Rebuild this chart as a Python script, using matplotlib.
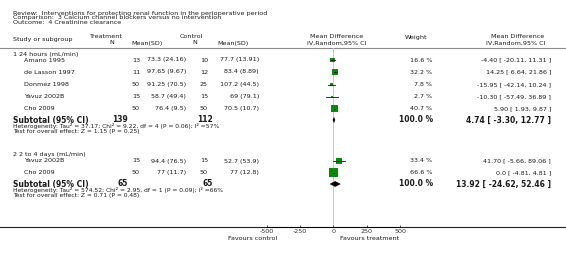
import numpy as np
import matplotlib.pyplot as plt
from matplotlib.patches import Polygon

# ---- data ----
studies1 = ['Amano 1995', 'de Lasson 1997', 'Donmez 1998', 'Yavuz 2002B', 'Cho 2009']
trt_n1 = [13, 11, 50, 15, 50]
trt_msd1 = ['73.3 (24.16)', '97.65 (9.67)', '91.25 (70.5)', '58.7 (49.4)', '76.4 (9.5)']
ctl_n1 = [10, 12, 25, 15, 50]
ctl_msd1 = ['77.7 (13.91)', '83.4 (8.89)', '107.2 (44.5)', '69 (79.1)', '70.5 (10.7)']
md1 = [-4.40, 14.25, -15.95, -10.30, 5.90]
lo1 = [-20.11, 6.64, -42.14, -57.49, 1.93]
hi1 = [11.31, 21.86, 10.24, 36.89, 9.87]
w1 = [16.6, 32.2, 7.8, 2.7, 40.7]
sub1 = [4.74, -3.30, 12.77]
het1 = 'Heterogeneity: Tau\u00b2 = 37.17; Chi\u00b2 = 9.22, df = 4 (P = 0.06); I\u00b2 =57%'
test1 = 'Test for overall effect: Z = 1.15 (P = 0.25)'

studies2 = ['Yavuz 2002B', 'Cho 2009']
trt_n2 = [15, 50]
trt_msd2 = ['94.4 (76.5)', '77 (11.7)']
ctl_n2 = [15, 50]
ctl_msd2 = ['52.7 (53.9)', '77 (12.8)']
md2 = [41.70, 0.0]
lo2 = [-5.66, -4.81]
hi2 = [89.06, 4.81]
w2 = [33.4, 66.6]
sub2 = [13.92, -24.62, 52.46]
het2 = 'Heterogeneity: Tau\u00b2 = 574.52; Chi\u00b2 = 2.95, df = 1 (P = 0.09); I\u00b2 =66%'
test2 = 'Test for overall effect: Z = 0.71 (P = 0.48)'

ticks = [-500, -250, 0, 250, 500]

fs = 4.6
fsb = 5.5
fsh = 4.3
green = '#0a8a0a'

fig = plt.figure(figsize=(5.66, 2.57), dpi=100)
ax = fig.add_axes([0, 0, 1, 1])
ax.set_xlim(0, 566)
ax.set_ylim(257, 0)
ax.axis('off')

# forest axes: -500..500 -> pixels 266.7..400
fx = fig.add_axes([266.67 / 566, 0, 133.33 / 566, 1])
fx.set_xlim(-500, 500)
fx.set_ylim(257, 0)
fx.patch.set_alpha(0)
for s in ['top', 'left', 'right']:
    fx.spines[s].set_visible(False)
fx.spines['bottom'].set_position(('data', 227))
fx.spines['bottom'].set_linewidth(0.7)
fx.set_yticks([])
fx.set_xticks(ticks)
fx.set_xticklabels([str(t) for t in ticks])
fx.tick_params(axis='x', direction='in', length=1.8, width=0.6, labelsize=fs, pad=1.5,
               colors='#333333')


def txt(x, y, s, ha='left', size=fs, weight='normal'):
    ax.text(x, y, s, ha=ha, va='center', fontsize=size, fontweight=weight, color='#1a1a1a')


# header
txt(13, 13, 'Review:  Interventions for protecting renal function in the perioperative period')
txt(13, 18, 'Comparison:  3 Calcium channel blockers versus no intervention')
txt(13, 23, 'Outcome:  4 Creatinine clearance')
txt(13, 39, 'Study or subgroup')
txt(105, 37, 'Treatment', ha='center')
txt(112, 42, 'N', ha='center')
txt(147, 43, 'Mean(SD)', ha='center')
txt(191, 37, 'Control', ha='center')
txt(195, 42, 'N', ha='center')
txt(233, 43, 'Mean(SD)', ha='center')
txt(337, 37, 'Mean Difference', ha='center')
txt(337, 43, 'IV,Random,95% CI', ha='center')
txt(416, 37, 'Weight', ha='center')
txt(518, 37, 'Mean Difference', ha='center')
txt(516, 43, 'IV,Random,95% CI', ha='center')
ax.plot([0, 566], [48, 48], color='#8c8c8c', lw=0.8)
ax.plot([0, 566], [227, 227], color='#222222', lw=0.8)

# zero line
fx.plot([0, 0], [48, 227], color='#c8c8c8', lw=0.7, zorder=1)


def ci_text(m, l, h):
    ms = '0.0' if m == 0 else f'{m:.2f}'
    return f'{ms} [ {l:.2f}, {h:.2f} ]'


def group(title, ytitle, ys, studies, tn, tmsd, cn, cmsd, md, lo, hi, w, sub, ysub, het, test):
    txt(13, ytitle, title)
    for i, y in enumerate(ys):
        txt(24, y, studies[i])
        txt(140, y, str(tn[i]), ha='right')
        txt(186, y, tmsd[i], ha='right')
        txt(208, y, str(cn[i]), ha='right')
        txt(259, y, cmsd[i], ha='right')
        txt(432, y, f'{w[i]} %', ha='right')
        txt(551, y, ci_text(md[i], lo[i], hi[i]), ha='right')
        fx.plot([lo[i], hi[i]], [y, y], color='#111111', lw=0.6, zorder=3)
        fx.scatter([md[i]], [y], marker='s', s=0.65 * w[i], color=green,
                   edgecolors='none', zorder=2)
    txt(13, ysub, 'Subtotal (95% CI)', size=fsb, weight='bold')
    txt(128, ysub, str(sum(tn)), ha='right', size=fsb, weight='bold')
    txt(213, ysub, str(sum(cn)), ha='right', size=fsb, weight='bold')
    txt(433, ysub, '100.0 %', ha='right', size=fsb, weight='bold')
    txt(551, ysub, ci_text(*sub), ha='right', size=fsb, weight='bold')
    m, l, h = sub
    fx.add_patch(Polygon([[l, ysub], [m, ysub - 2.6], [h, ysub], [m, ysub + 2.6]],
                         closed=True, color='black', lw=0.3, zorder=3))
    txt(13, ysub + 6, het, size=fsh)
    txt(13, ysub + 11, test, size=fsh)


group('1 24 hours (mL/min)', 54.5, [60, 72, 84.5, 96.5, 108.5], studies1, trt_n1, trt_msd1,
      ctl_n1, ctl_msd1, md1, lo1, hi1, w1, sub1, 120, het1, test1)
group('2 2 to 4 days (mL/min)', 154.5, [161, 172.5], studies2, trt_n2, trt_msd2,
      ctl_n2, ctl_msd2, md2, lo2, hi2, w2, sub2, 184, het2, test2)

txt(277, 238, 'Favours control', ha='right')
txt(370, 238, 'Favours treatment', ha='center')

fig.savefig('out.png', dpi=100)
